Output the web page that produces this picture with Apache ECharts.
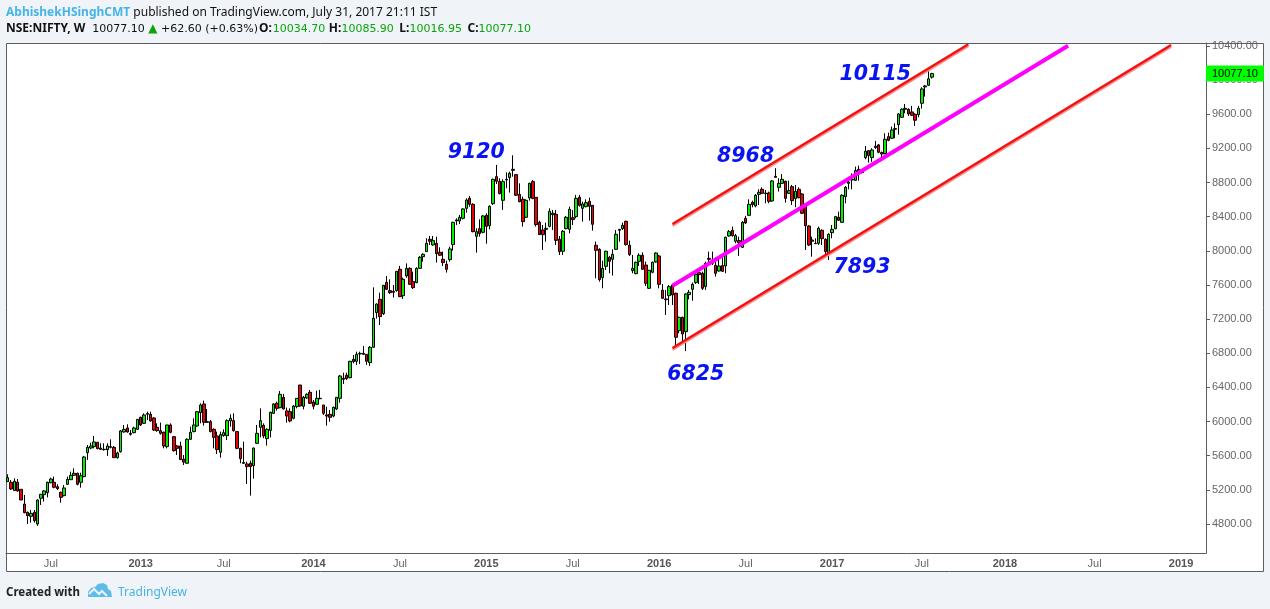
<!DOCTYPE html>
<html>
<head>
<meta charset="utf-8">
<title>NIFTY weekly</title>
<style>
  html, body { margin: 0; padding: 0; background: #f0f3f8; }
  #chart { width: 1270px; height: 609px; }
</style>
</head>
<body>
<div id="chart"></div>
<script src="https://cdn.jsdelivr.net/npm/echarts@6/dist/echarts.min.js"></script>
<script>
// weekly candles: [open, close, low, high]
var bars2012 = [
  [5296,5343,5296,5382],[5288,5210,5198,5315],[5191,5300,5191,5335],[5288,5187,5179,5327],[5206,5081,5081,5206],
  [5034,4933,4925,5140],[4937,4898,4800,4945],[4890,4925,4816,4964],[4937,4839,4816,4964],[4800,5081,4777,5089],
  [5101,5148,5023,5148],[5144,5187,5062,5198],[5167,5288,5112,5296],[5284,5327,5276,5343],[5288,5230,5218,5355],
  [5237,5214,5198,5265],[5171,5112,5050,5179],[5132,5222,5124,5257],[5265,5323,5257,5355],[5319,5370,5315,5413],
  [5370,5394,5362,5452],[5394,5265,5253,5401],[5288,5366,5226,5401],[5355,5585,5347,5597],[5636,5698,5550,5726],
  [5690,5714,5675,5753],[5706,5761,5686,5831],[5757,5683,5675,5757],[5690,5675,5667,5745],[5675,5671,5659,5745],
  [5671,5714,5597,5745],[5706,5698,5686,5792],[5698,5577,5577,5714],[5577,5632,5565,5647],[5647,5890,5636,5901],
  [5878,5909,5870,5960],[5925,5878,5870,5968],[5850,5862,5835,5901],[5870,5925,5862,5940],[5909,6026,5901,6026]
];
var bars2013 = [
  [6050,5960,5948,6057],[5979,6077,5972,6096],[6085,6093,6018,6116],[6085,6007,5999,6116],[6042,5901,5890,6050],
  [5932,5893,5882,5979],[5893,5862,5847,5987],[5874,5714,5686,5882],[5706,5960,5686,5960],[5960,5874,5862,5979],
  [5823,5659,5647,5831],[5714,5686,5608,5726],[5714,5554,5550,5765],[5558,5526,5491,5608],[5511,5792,5511,5804],
  [5792,5874,5784,5940],[5882,5960,5874,6038],[5948,6116,5940,6124],[6104,6194,5979,6214],[6206,5991,5952,6245],
  [5999,5991,5985,6147],[5999,5882,5874,6018],[5909,5815,5686,5921],[5831,5671,5620,5882],[5640,5847,5577,5882],
  [5835,5870,5823,5909],[5835,6011,5784,6026],[6007,6038,5940,6085],[6011,5893,5882,6096],[5882,5686,5675,5882],
  [5686,5565,5511,5694],[5520,5511,5503,5765],[5503,5472,5269,5530],[5511,5472,5132,5542],[5483,5690,5331,5694],
  [5745,5862,5737,5960],[5932,6011,5815,6155],[5956,5831,5804,5979],[5800,5909,5718,5921],[5897,6108,5815,6116],
  [6096,6206,6089,6214],[6214,6155,6128,6233],[6163,6319,6155,6358],[6284,6147,6143,6323],[6124,6065,5987,6163],
  [6116,6007,5991,6155],[6038,6182,6026,6194],[6175,6272,6155,6272],[6428,6182,6175,6428],[6179,6284,6143,6300],
  [6276,6319,6268,6331],[6343,6214,6206,6370]
];
var bars2014 = [
  [6229,6179,6143,6253],[6202,6272,6194,6362],[6272,6268,6261,6370],[6194,6096,6077,6194],[6077,6065,5952,6175],
  [6085,6050,5999,6136],[6065,6167,6050,6175],[6147,6284,6136,6284],[6272,6534,6222,6546],[6507,6495,6440,6573],
  [6542,6503,6487,6573],[6514,6706,6507,6710],[6729,6702,6682,6780],[6706,6788,6663,6819],[6792,6799,6674,6819],
  [6799,6788,6780,6885],[6788,6706,6663,6788],[6690,6870,6651,6885],[6870,7209,6862,7573],[7276,7377,7206,7385],
  [7432,7229,7131,7510],[7264,7596,7249,7600],[7631,7549,7541,7705],[7534,7510,7495,7666],[7526,7514,7452,7600],
  [7534,7760,7522,7760],[7784,7463,7463,7823],[7475,7667,7436,7686],[7706,7795,7686,7854],[7795,7608,7600,7807],
  [7639,7569,7553,7756],[7628,7795,7620,7807],[7795,7924,7788,7940],[7932,7959,7874,7971],[7991,8088,7991,8147],
  [8135,8112,8069,8174],[8069,8120,8061,8174],[8088,7967,7862,8166],[7983,7948,7940,8041],[7901,7862,7823,7991],
  [7842,7784,7745,7885],[7897,8022,7874,8049],[8073,8334,8002,8342],[8350,8362,8303,8381],[8350,8393,8315,8420],
  [8381,8491,8369,8498],[8498,8596,8448,8615],[8615,8545,8518,8643],[8545,8225,8217,8557],[8170,8225,7979,8264],
  [8260,8202,8166,8369],[8217,8409,8205,8420]
];
var bars2015 = [
  [8416,8287,8084,8440],[8295,8522,8252,8533],[8553,8838,8537,8846],[8869,8815,8783,9006],[8815,8670,8662,8850],
  [8592,8811,8479,8838],[8830,8838,8733,8920],[8858,8908,8682,8928],[8943,8955,8869,9119],[8893,8651,8643,8893],
  [8662,8576,8569,8791],[8604,8342,8284,8635],[8393,8592,8385,8604],[8619,8791,8588,8799],[8811,8615,8604,8830],
  [8627,8307,8284,8627],[8334,8190,8186,8354],[8244,8190,8010,8303],[8252,8264,8108,8330],[8287,8463,8276,8498],
  [8424,8440,8244,8479],[8428,8123,8069,8479],[8135,7991,7952,8174],[7995,8229,7952,8244],[8260,8393,8252,8409],
  [8252,8487,8205,8518],[8389,8366,8303,8479],[8401,8615,8381,8655],[8627,8533,8518,8655],[8498,8549,8342,8576],
  [8518,8565,8510,8604],[8580,8522,8354,8623],[8533,8311,8237,8533],[8065,8006,7678,8108],[8018,7663,7639,8030],
  [7686,7795,7561,7885],[7819,7995,7776,8002],[7924,7877,7737,7940],[7901,7959,7710,8018],[8018,8194,8010,8244],
  [8241,8252,8108,8256],[8260,8299,8244,8330],[8346,8073,8061,8354],[8065,7956,7940,8120],[7768,7795,7737,7952],
  [7733,7866,7725,7874],[7877,7948,7823,7971],[7948,7784,7776,7983],[7834,7620,7588,7874],[7561,7772,7553,7776],
  [7749,7866,7737,7874],[7870,7975,7862,7983]
];
var bars2016 = [
  [7940,7608,7561,7952],[7538,7444,7436,7612],[7436,7428,7249,7542],[7475,7581,7366,7600],[7600,7483,7366,7612],
  [7503,6987,6878,7510],[7065,7221,7034,7229],[7221,7026,6917,7229],[7053,7495,6825,7503],[7487,7514,7432,7542],
  [7549,7608,7416,7628],[7628,7725,7612,7737],[7745,7721,7612,7776],[7737,7561,7542,7756],[7581,7854,7542,7874],
  [7912,7901,7854,7991],[7893,7854,7834,7991],[7830,7737,7698,7924],[7764,7823,7756,7932],[7827,7760,7752,7924],
  [7823,8159,7737,8166],[8174,8225,8166,8244],[8241,8178,8166,8284],[8112,8178,8088,8198],[8120,8096,7940,8166],
  [8041,8334,8034,8350],[8381,8327,8315,8409],[8416,8545,8409,8604],[8569,8541,8510,8588],[8526,8651,8510,8666],
  [8662,8686,8537,8721],[8721,8674,8666,8744],[8678,8670,8557,8713],[8678,8580,8557,8694],[8584,8819,8576,8830],
  [8873,8861,8861,8968],[8744,8791,8694,8850],[8791,8838,8783,8900],[8815,8615,8565,8822],[8674,8705,8666,8822],
  [8752,8588,8537,8772],[8612,8697,8510,8772],[8721,8623,8615,8744],[8666,8440,8432,8674],[8541,8295,8010,8549],
  [8291,8069,8057,8299],[8127,8112,7932,8166],[8088,8084,8080,8147],[8088,8264,8069,8284],[8241,8143,8069,8252],
  [8135,7991,7952,8147],[7971,8194,7893,8205]
];
var bars2017 = [
  [8213,8252,8147,8303],[8260,8401,8252,8409],[8393,8358,8350,8459],[8334,8651,8327,8662],[8635,8744,8557,8760],
  [8791,8807,8721,8830],[8830,8838,8721,8908],[8826,8940,8819,8986],[8955,8900,8822,8998],[8916,8947,8908,8955],
  [9092,9167,9073,9229],[9174,9116,9034,9182],[9092,9182,9042,9202],[9225,9210,9194,9288],[9241,9155,9143,9252],
  [9151,9135,9092,9163],[9139,9307,9131,9377],[9338,9295,9284,9385],[9319,9416,9311,9456],[9424,9432,9319,9495],
  [9479,9604,9362,9612],[9565,9659,9557,9670],[9659,9670,9612,9721],[9659,9604,9581,9670],[9627,9588,9581,9698],
  [9600,9530,9463,9612],[9596,9670,9565,9698],[9729,9897,9666,9916],[9920,9932,9807,9944],[9940,10015,9932,10115],
  [10034.70,10077.10,10016.95,10085.90]
];
var candles = bars2012.concat(bars2013, bars2014, bars2015, bars2016, bars2017);

var lastClose = 10077.10;
var priceTicks = [4800, 5200, 5600, 6000, 6400, 6800, 7200, 7600, 8000, 8400, 8800, 9200, 9600, 10000, 10400];
var timeTicks = { 13: 'Jul', 40: '2013', 65: 'Jul', 92: '2014', 118: 'Jul', 144: '2015', 170: 'Jul', 196: '2016',
  222: 'Jul', 248: '2017', 275: 'Jul', 300: '2018', 327: 'Jul', 353: '2019' };

// channel drawn by the author, [week index, price] pairs
var upperChannel = [[200, 8315], [289, 10420]];
var middleChannel = [[200, 7592], [319, 10403]];
var lowerChannel = [[200, 6862], [350, 10411]];
// pale fringe below the red lines, as price drop
var fringeDrop = 20;

var swingNotes = [
  { text: '9120', week: 141, price: 9147 },
  { text: '8968', week: 222, price: 9100 },
  { text: '7893', week: 257, price: 7800 },
  { text: '6825', week: 207, price: 6546 },
  { text: '10115', week: 261, price: 10061 }
];

// weekly slots, including the empty space right of the last candle
var weekCount = 361;
var weeks = [];
for (var w = 0; w < weekCount; w++) {
  weeks.push(new Date(Date.UTC(2012, 3, 2 + w * 7)).toISOString().slice(0, 10));
}

function channel(points, color, width, drop) {
  drop = drop || 0;
  return [{
    coord: [points[0][0], points[0][1] - drop],
    lineStyle: { color: color, width: width, type: 'solid', opacity: 1 }
  }, { coord: [points[1][0], points[1][1] - drop] }];
}

var headFont = '"Noto Sans", sans-serif';
var numFont = '"DejaVu Sans", sans-serif';
var axisFont = '"Liberation Sans", Arial, sans-serif';
var green = '#0aa50a';

var chart = echarts.init(document.getElementById('chart'));
var option = {
  animation: false,
  backgroundColor: '#f0f3f8',
  title: [{
    left: 6, top: 7, padding: 0,
    text: '{blue|AbhishekHSinghCMT}{blk| published on TradingView.com, July 31, 2017 21:11 IST}',
    textStyle: { fontWeight: 'normal', rich: {
      blue: { fontFamily: headFont, fontSize: 12, fontWeight: 'bold', color: '#45b4e6' },
      blk: { fontFamily: headFont, fontSize: 12, fontWeight: 'normal', color: '#111' }
    } }
  }, {
    left: 6, top: 23, padding: 0,
    text: '{b|NSE:NIFTY, W}{n|  10077.10 }{up|▲}{n| +62.60 (+0.63%)}{o|O:}{g|10034.70 }{b|H:}{g2|10085.90 }{b|L:}{g2|10016.95 }{b|C:}{g|10077.10}',
    textStyle: { fontWeight: 'normal', rich: {
      b: { fontFamily: headFont, fontSize: 12, fontWeight: 'bold', color: '#111' },
      o: { fontFamily: headFont, fontSize: 12, fontWeight: 'bold', color: '#111', padding: [0, 1, 0, 1] },
      n: { fontFamily: numFont, fontSize: 11, fontWeight: 'normal', color: '#111' },
      g: { fontFamily: numFont, fontSize: 11, fontWeight: 'normal', color: green },
      g2: { fontFamily: numFont, fontSize: 11, fontWeight: 'normal', color: green, padding: [0, 2, 0, 0] },
      up: { fontFamily: numFont, fontSize: 12, fontWeight: 'normal', color: green }
    } }
  }, {
    left: 6, top: 587, padding: 0,
    text: 'Created with',
    textStyle: { fontFamily: headFont, fontSize: 11.5, fontWeight: 'bold', color: '#222' }
  }, {
    left: 118, top: 587, padding: 0,
    text: 'TradingView',
    textStyle: { fontFamily: headFont, fontSize: 12, fontWeight: 'normal', color: '#45b4e6' }
  }],
  graphic: [{
    type: 'rect', z: -1,
    shape: { x: 6.5, y: 43.5, width: 1257, height: 528 },
    style: { fill: '#fff', stroke: '#5a5d61', lineWidth: 1 }
  }, {
    type: 'polygon', z: 5,
    shape: { points: [[88, 597], [88, 592], [91, 588], [95, 587], [98, 584], [103, 583], [107, 585], [108, 589], [111, 591], [112, 597]] },
    style: { fill: '#5bbde8' }
  }, {
    type: 'polyline', z: 6,
    shape: { points: [[89, 594], [94, 589], [99, 594], [102, 591], [107, 596]] },
    style: { stroke: '#f0f3f8', lineWidth: 2, fill: 'none' }
  }],
  grid: { left: 6, top: 43, width: 1200, height: 510, show: false },
  xAxis: {
    type: 'category',
    data: weeks,
    boundaryGap: true,
    axisLine: { onZero: false, lineStyle: { color: '#5a5d61', width: 1 } },
    axisTick: {
      length: 4, alignWithLabel: true, lineStyle: { color: '#5a5d61' },
      interval: function (i) { return timeTicks[i] != null; }
    },
    axisLabel: {
      margin: 5,
      interval: function (i) { return timeTicks[i] != null; },
      fontFamily: axisFont,
      fontSize: 11,
      color: '#666',
      formatter: function (v, i) {
        var t = timeTicks[i];
        return t === 'Jul' ? t : '{year|' + t + '}';
      },
      rich: { year: { fontFamily: axisFont, fontSize: 11, fontWeight: 'bold', color: '#555' } }
    },
    splitLine: { show: false }
  },
  yAxis: {
    type: 'value',
    position: 'right',
    min: 4460,
    max: 10435,
    axisLine: { show: true, lineStyle: { color: '#5a5d61', width: 1 } },
    axisTick: { show: true, length: 4, customValues: priceTicks, lineStyle: { color: '#5a5d61' } },
    axisLabel: {
      margin: 6,
      customValues: priceTicks,
      fontFamily: axisFont,
      fontSize: 11,
      color: '#666',
      formatter: function (v) { return v.toFixed(2); }
    },
    splitLine: { show: false }
  },
  series: [{
    type: 'candlestick',
    data: candles,
    barWidth: 3,
    clip: false,
    itemStyle: {
      color: '#00f000', color0: '#f00000',
      borderColor: '#000', borderColor0: '#000', borderColorDoji: '#000', borderWidth: 1
    },
    markLine: {
      silent: true,
      symbol: 'none',
      label: { show: false },
      data: [
        channel(upperChannel, '#f58f8f', 2.5, fringeDrop),
        channel(lowerChannel, '#f58f8f', 2.5, fringeDrop),
        channel(upperChannel, '#f51010', 2.5),
        channel(middleChannel, '#ff00ff', 4),
        channel(lowerChannel, '#f51010', 2.5),
        {
          yAxis: lastClose,
          lineStyle: { color: 'transparent', width: 0, opacity: 1 },
          label: {
            show: true, position: 'end', distance: 0, opacity: 1,
            formatter: lastClose.toFixed(2),
            backgroundColor: '#00ff00',
            color: '#000',
            fontFamily: axisFont,
            fontSize: 11,
            padding: [3, 6, 2, 6]
          }
        }
      ]
    },
    markPoint: {
      silent: true,
      symbol: 'circle',
      symbolSize: 0,
      label: {
        show: true,
        position: 'inside',
        fontFamily: numFont,
        fontStyle: 'italic',
        fontWeight: 'bold',
        fontSize: 20.5,
        color: '#0a14f0',
        formatter: '{b}'
      },
      data: swingNotes.map(function (n) {
        return { name: n.text, coord: [n.week, n.price] };
      })
    }
  }]
};
chart.setOption(option);
</script>
</body>
</html>
